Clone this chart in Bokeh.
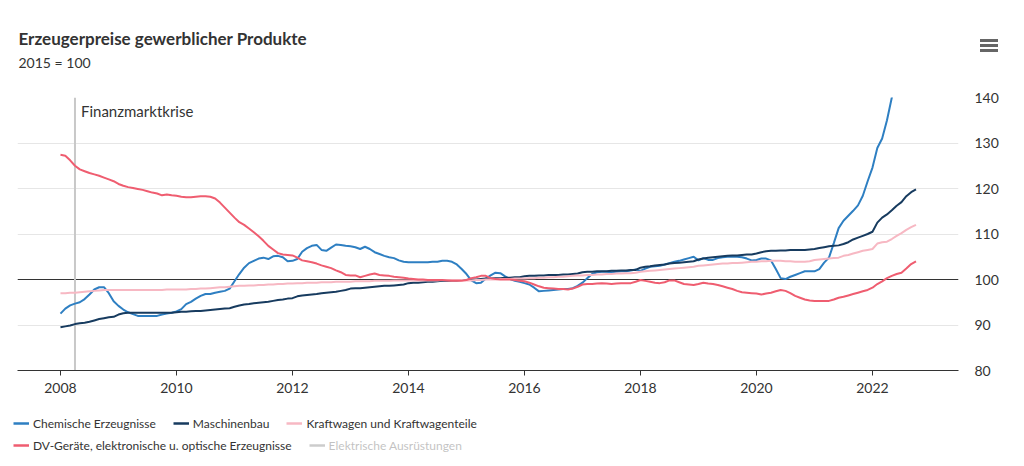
from bokeh.plotting import figure
from bokeh.layouts import column
from bokeh.models import (Span, Label, Legend, LegendItem, FixedTicker, Range1d, BoxAnnotation)
from bokeh.embed import file_html
from bokeh.resources import INLINE

# ---------------- data (monthly, Jan 2008 - Oct 2022, 2015 = 100) ----------------
start_year = 2008
tick_years = [2008, 2010, 2012, 2014, 2016, 2018, 2020, 2022]
y_ticks = [80, 90, 100, 110, 120, 130, 140]
crisis_year = 2008.25
crisis_label = "Finanzmarktkrise"

chemie = [
    92.5, 93.6, 94.3, 94.7, 95.0, 95.7, 96.7, 97.8, 98.3, 98.3, 97.0, 95.2,
    94.2, 93.4, 92.8, 92.4, 92.0, 92.0, 92.0, 92.0, 92.0, 92.3, 92.5, 92.7,
    93.0, 93.5, 94.6, 95.1, 95.8, 96.4, 96.8, 96.8, 97.1, 97.3, 97.5, 98.0,
    99.6, 101.2, 102.6, 103.6, 104.1, 104.6, 104.8, 104.5, 105.1, 105.2, 104.9, 104.0,
    104.1, 104.5, 106.1, 106.9, 107.4, 107.6, 106.5, 106.3, 107.0, 107.7, 107.6, 107.4,
    107.3, 107.1, 106.7, 107.2, 106.7, 106.0, 105.6, 105.2, 104.9, 104.7, 104.2, 103.9,
    103.8, 103.8, 103.8, 103.8, 103.8, 103.9, 103.9, 104.1, 104.1, 103.9, 103.3, 102.3,
    101.2, 99.8, 99.2, 99.3, 100.2, 100.9, 101.5, 101.4, 100.7, 100.1, 99.7, 99.5,
    99.2, 98.9, 98.2, 97.4, 97.5, 97.6, 97.7, 97.8, 97.9, 97.9, 98.1, 98.6,
    99.3, 100.3, 101.2, 101.6, 101.7, 101.7, 101.6, 101.7, 101.8, 101.8, 102.0, 102.2,
    101.9, 102.4, 102.8, 102.9, 103.0, 103.3, 103.6, 103.9, 104.1, 104.4, 104.7, 105.0,
    104.2, 104.7, 104.3, 104.3, 104.7, 104.9, 105.0, 105.0, 105.0, 104.9, 104.6, 104.2,
    104.3, 104.6, 104.6, 104.2, 102.3, 100.3, 100.1, 100.6, 101.0, 101.4, 101.8, 101.8,
    101.8, 102.3, 103.7, 104.8, 108.0, 111.3, 112.9, 114.0, 115.1, 116.3, 118.4, 121.6,
    124.6, 128.9, 131.0, 135.0, 140.0, 143.5, 146.0, 147.5, 148.5, 149.5,
]

maschinenbau = [
    89.5, 89.7, 89.9, 90.2, 90.4, 90.5, 90.7, 91.0, 91.3, 91.5, 91.7, 91.8,
    92.3, 92.6, 92.7, 92.7, 92.7, 92.7, 92.7, 92.7, 92.7, 92.7, 92.7, 92.7,
    92.8, 92.9, 92.9, 93.0, 93.1, 93.1, 93.2, 93.3, 93.4, 93.5, 93.6, 93.7,
    94.0, 94.3, 94.5, 94.6, 94.8, 94.9, 95.0, 95.1, 95.3, 95.5, 95.6, 95.8,
    95.9, 96.3, 96.5, 96.6, 96.7, 96.8, 97.0, 97.1, 97.2, 97.3, 97.5, 97.7,
    98.0, 98.1, 98.1, 98.2, 98.3, 98.4, 98.5, 98.6, 98.6, 98.7, 98.8, 98.9,
    99.2, 99.3, 99.3, 99.4, 99.5, 99.5, 99.6, 99.7, 99.7, 99.8, 99.8, 99.9,
    99.9, 100.0, 100.0, 100.1, 100.2, 100.2, 100.3, 100.3, 100.4, 100.4, 100.5, 100.5,
    100.7, 100.8, 100.8, 100.9, 100.9, 101.0, 101.0, 101.0, 101.1, 101.1, 101.2, 101.3,
    101.6, 101.7, 101.7, 101.8, 101.8, 101.8, 101.9, 101.9, 102.0, 102.0, 102.1, 102.1,
    102.6, 102.8, 102.9, 103.1, 103.2, 103.3, 103.5, 103.6, 103.7, 103.8, 103.9, 104.0,
    104.4, 104.6, 104.8, 104.9, 105.0, 105.1, 105.2, 105.3, 105.3, 105.4, 105.5, 105.5,
    105.7, 106.0, 106.2, 106.3, 106.3, 106.4, 106.4, 106.5, 106.5, 106.5, 106.5, 106.6,
    106.7, 106.9, 107.1, 107.3, 107.4, 107.5, 107.8, 108.2, 108.8, 109.2, 109.6, 110.0,
    110.5, 112.5, 113.6, 114.3, 115.2, 116.2, 117.0, 118.3, 119.2, 119.8,
]

kraftwagen = [
    97.0, 97.0, 97.1, 97.1, 97.2, 97.3, 97.4, 97.5, 97.6, 97.7, 97.7, 97.7,
    97.7, 97.7, 97.7, 97.7, 97.7, 97.7, 97.7, 97.7, 97.7, 97.7, 97.8, 97.8,
    97.8, 97.8, 97.8, 97.9, 97.9, 98.0, 98.0, 98.1, 98.2, 98.3, 98.3, 98.4,
    98.5, 98.6, 98.6, 98.7, 98.7, 98.8, 98.8, 98.9, 98.9, 99.0, 99.0, 99.1,
    99.1, 99.2, 99.2, 99.3, 99.3, 99.3, 99.4, 99.4, 99.4, 99.5, 99.5, 99.5,
    99.5, 99.6, 99.6, 99.6, 99.6, 99.7, 99.7, 99.7, 99.7, 99.8, 99.8, 99.8,
    99.8, 99.8, 99.8, 99.8, 99.8, 99.8, 99.8, 99.9, 99.9, 99.9, 99.9, 99.9,
    99.8, 99.8, 99.9, 99.9, 100.0, 100.0, 100.0, 100.1, 100.1, 100.1, 100.2, 100.2,
    100.2, 100.3, 100.3, 100.4, 100.4, 100.5, 100.5, 100.6, 100.6, 100.7, 100.8, 100.9,
    100.9, 101.0, 101.0, 101.1, 101.1, 101.2, 101.2, 101.3, 101.3, 101.4, 101.4, 101.5,
    101.7, 101.8, 101.9, 102.0, 102.1, 102.2, 102.3, 102.4, 102.5, 102.6, 102.7, 102.8,
    103.0, 103.1, 103.2, 103.3, 103.4, 103.5, 103.5, 103.6, 103.6, 103.7, 103.8, 103.9,
    103.9, 104.0, 104.0, 104.1, 104.1, 104.1, 104.0, 104.0, 103.9, 103.9, 103.9, 104.0,
    104.3, 104.4, 104.5, 104.6, 104.7, 104.8, 105.2, 105.4, 105.7, 106.0, 106.3, 106.5,
    106.7, 107.9, 108.2, 108.3, 108.9, 109.6, 110.2, 110.9, 111.5, 112.0,
]

dv_geraete = [
    127.4, 127.2, 126.2, 125.0, 124.2, 123.8, 123.4, 123.1, 122.8, 122.4, 122.0, 121.6,
    121.0, 120.6, 120.3, 120.1, 119.9, 119.7, 119.4, 119.1, 118.9, 118.5, 118.7, 118.5,
    118.4, 118.2, 118.1, 118.1, 118.2, 118.3, 118.3, 118.2, 117.8, 116.9, 115.8, 114.7,
    113.6, 112.6, 112.0, 111.2, 110.4, 109.5, 108.5, 107.4, 106.6, 105.8, 105.5, 105.4,
    105.3, 104.8, 104.2, 104.0, 103.8, 103.5, 103.1, 102.8, 102.5, 102.0, 101.6, 101.0,
    100.9, 100.9, 100.5, 100.8, 101.1, 101.3, 101.0, 100.9, 100.8, 100.6, 100.5, 100.4,
    100.2, 100.1, 100.0, 100.0, 99.9, 99.9, 99.9, 99.9, 99.8, 99.7, 99.7, 99.7,
    99.9, 100.3, 100.5, 100.8, 100.8, 100.3, 100.1, 100.0, 100.0, 100.0, 99.9, 99.7,
    99.6, 99.3, 98.9, 98.5, 98.2, 98.1, 98.0, 97.9, 97.9, 97.8, 98.0, 98.4,
    98.9, 99.0, 99.0, 99.1, 99.2, 99.1, 99.0, 99.1, 99.2, 99.2, 99.2, 99.5,
    99.9, 99.7, 99.5, 99.3, 99.2, 99.4, 99.8, 99.8, 99.4, 99.0, 98.9, 98.8,
    99.0, 99.3, 99.1, 99.0, 98.8, 98.5, 98.2, 97.9, 97.5, 97.2, 97.1, 97.0,
    96.9, 96.7, 96.9, 97.1, 97.4, 97.7, 97.5, 97.0, 96.4, 96.0, 95.6, 95.4,
    95.3, 95.3, 95.3, 95.3, 95.6, 96.0, 96.2, 96.5, 96.8, 97.1, 97.4, 97.7,
    98.2, 99.0, 99.6, 100.3, 100.8, 101.2, 101.5, 102.4, 103.4, 104.0,
]

elektrische = []  # series switched off in the reference (greyed legend item)

series_names = [
    "Chemische Erzeugnisse",
    "Maschinenbau",
    "Kraftwagen und Kraftwagenteile",
    "DV-Geräte, elektronische u. optische Erzeugnisse",
    "Elektrische Ausrüstungen",
]
series_colors = ["#2e7fc2", "#173b5f", "#f7b8c3", "#ef5d70", "#555555"]

title_text = "Erzeugerpreise gewerblicher Produkte"
subtitle_text = "2015 = 100"

# ---------------- styling ----------------
FONT = "Lato"
TXT = "#333333"
W = 1024
HEAD_H = 90
FOOT_H = 61
MAIN_H = 466 - HEAD_H - FOOT_H
FL, FR, FT, FB = 17, 958, 97, 370  # frame edges in page pixels


def plain_figure(height):
    f = figure(width=W, height=height, x_range=Range1d(0, W), y_range=Range1d(height, 0),
               x_axis_location=None, y_axis_location=None,
               toolbar_location=None, output_backend="svg",
               min_border_left=0, min_border_right=0, min_border_top=0, min_border_bottom=0)
    f.frame_align = False
    f.grid.visible = False
    f.outline_line_color = None
    return f


# ---------------- header (title, subtitle, menu icon) ----------------
head = plain_figure(HEAD_H)
head.add_layout(Label(x=18, y=38, text=title_text, text_baseline="middle",
                      text_font=FONT, text_font_size="17px", text_font_style="bold", text_color=TXT))
head.add_layout(Label(x=18, y=62, text=subtitle_text, text_baseline="middle",
                      text_font=FONT, text_font_size="14px", text_color=TXT))
for cy in (40.0, 45.0, 50.0):
    head.add_layout(BoxAnnotation(left=979.5, right=997.5, top=cy - 1.4, bottom=cy + 1.4,
                                  fill_color="#666666", fill_alpha=1, line_color=None))

# ---------------- main chart ----------------
p = figure(
    width=W, height=MAIN_H,
    x_range=Range1d(2007.259, 2023.483), y_range=Range1d(80, 140),
    y_axis_location="right",
    toolbar_location=None, output_backend="svg",
    min_border_left=FL, min_border_right=W - FR,
    min_border_top=FT - HEAD_H, min_border_bottom=HEAD_H + MAIN_H - FB,
)
p.frame_align = False
p.outline_line_color = None

p.xaxis.ticker = FixedTicker(ticks=tick_years)
p.xaxis.axis_line_color = TXT
p.xaxis.major_tick_line_color = TXT
p.xaxis.major_tick_out = 5
p.xaxis.major_tick_in = 0
p.xaxis.minor_tick_line_color = None
p.xaxis.major_label_text_font = FONT
p.xaxis.major_label_text_font_size = "14px"
p.xaxis.major_label_text_color = TXT
p.xaxis.major_label_standoff = 7

p.yaxis.ticker = FixedTicker(ticks=y_ticks)
p.yaxis.axis_line_color = None
p.yaxis.major_tick_line_color = None
p.yaxis.minor_tick_line_color = None
p.yaxis.major_label_text_font = FONT
p.yaxis.major_label_text_font_size = "14px"
p.yaxis.major_label_text_color = TXT
p.yaxis.major_label_text_align = "right"
p.yaxis.major_label_standoff = 10

p.xgrid.grid_line_color = None
p.ygrid.ticker = FixedTicker(ticks=y_ticks)
p.ygrid.grid_line_color = "#e6e6e6"

p.add_layout(Span(location=100, dimension="width", line_color="#333333", line_width=1, level="underlay"))
p.add_layout(Span(location=crisis_year, dimension="height", line_color="#c8c8c8", line_width=2, level="underlay"))
p.add_layout(Label(x=crisis_year, y=140, x_offset=6, y_offset=-4, text=crisis_label, text_baseline="top",
                   text_font=FONT, text_font_size="15px", text_color=TXT))

xs = [start_year + i / 12 for i in range(len(dv_geraete))]
for vals, col in zip([chemie, maschinenbau, kraftwagen, dv_geraete], series_colors[:4]):
    p.line(xs[:len(vals)], vals, line_color=col, line_width=2)

# ---------------- footer legend (two rows, last series switched off) ----------------
foot = plain_figure(FOOT_H)
nan = float("nan")
swatches = [foot.line([nan], [nan], line_color=c, line_width=2.5) for c in series_colors]
swatches[4].visible = False

common = dict(orientation="horizontal", padding=0, margin=0, spacing=17,
              glyph_width=16, glyph_height=16, label_height=16, label_standoff=4,
              label_text_font=FONT, label_text_font_size="12px", label_text_color=TXT,
              border_line_color=None, background_fill_alpha=0, click_policy="hide",
              inactive_fill_color="white", inactive_fill_alpha=0.7)
row1 = Legend(items=[LegendItem(label=series_names[i], renderers=[swatches[i]]) for i in range(3)],
              location=(13, 35), **common)
row2 = Legend(items=[LegendItem(label=series_names[i], renderers=[swatches[i]]) for i in (3, 4)],
              location=(13, 13), **common)
foot.add_layout(row1)
foot.add_layout(row2)

layout = column(head, p, foot, spacing=0)
open("out.html", "w").write(file_html(layout, INLINE))
